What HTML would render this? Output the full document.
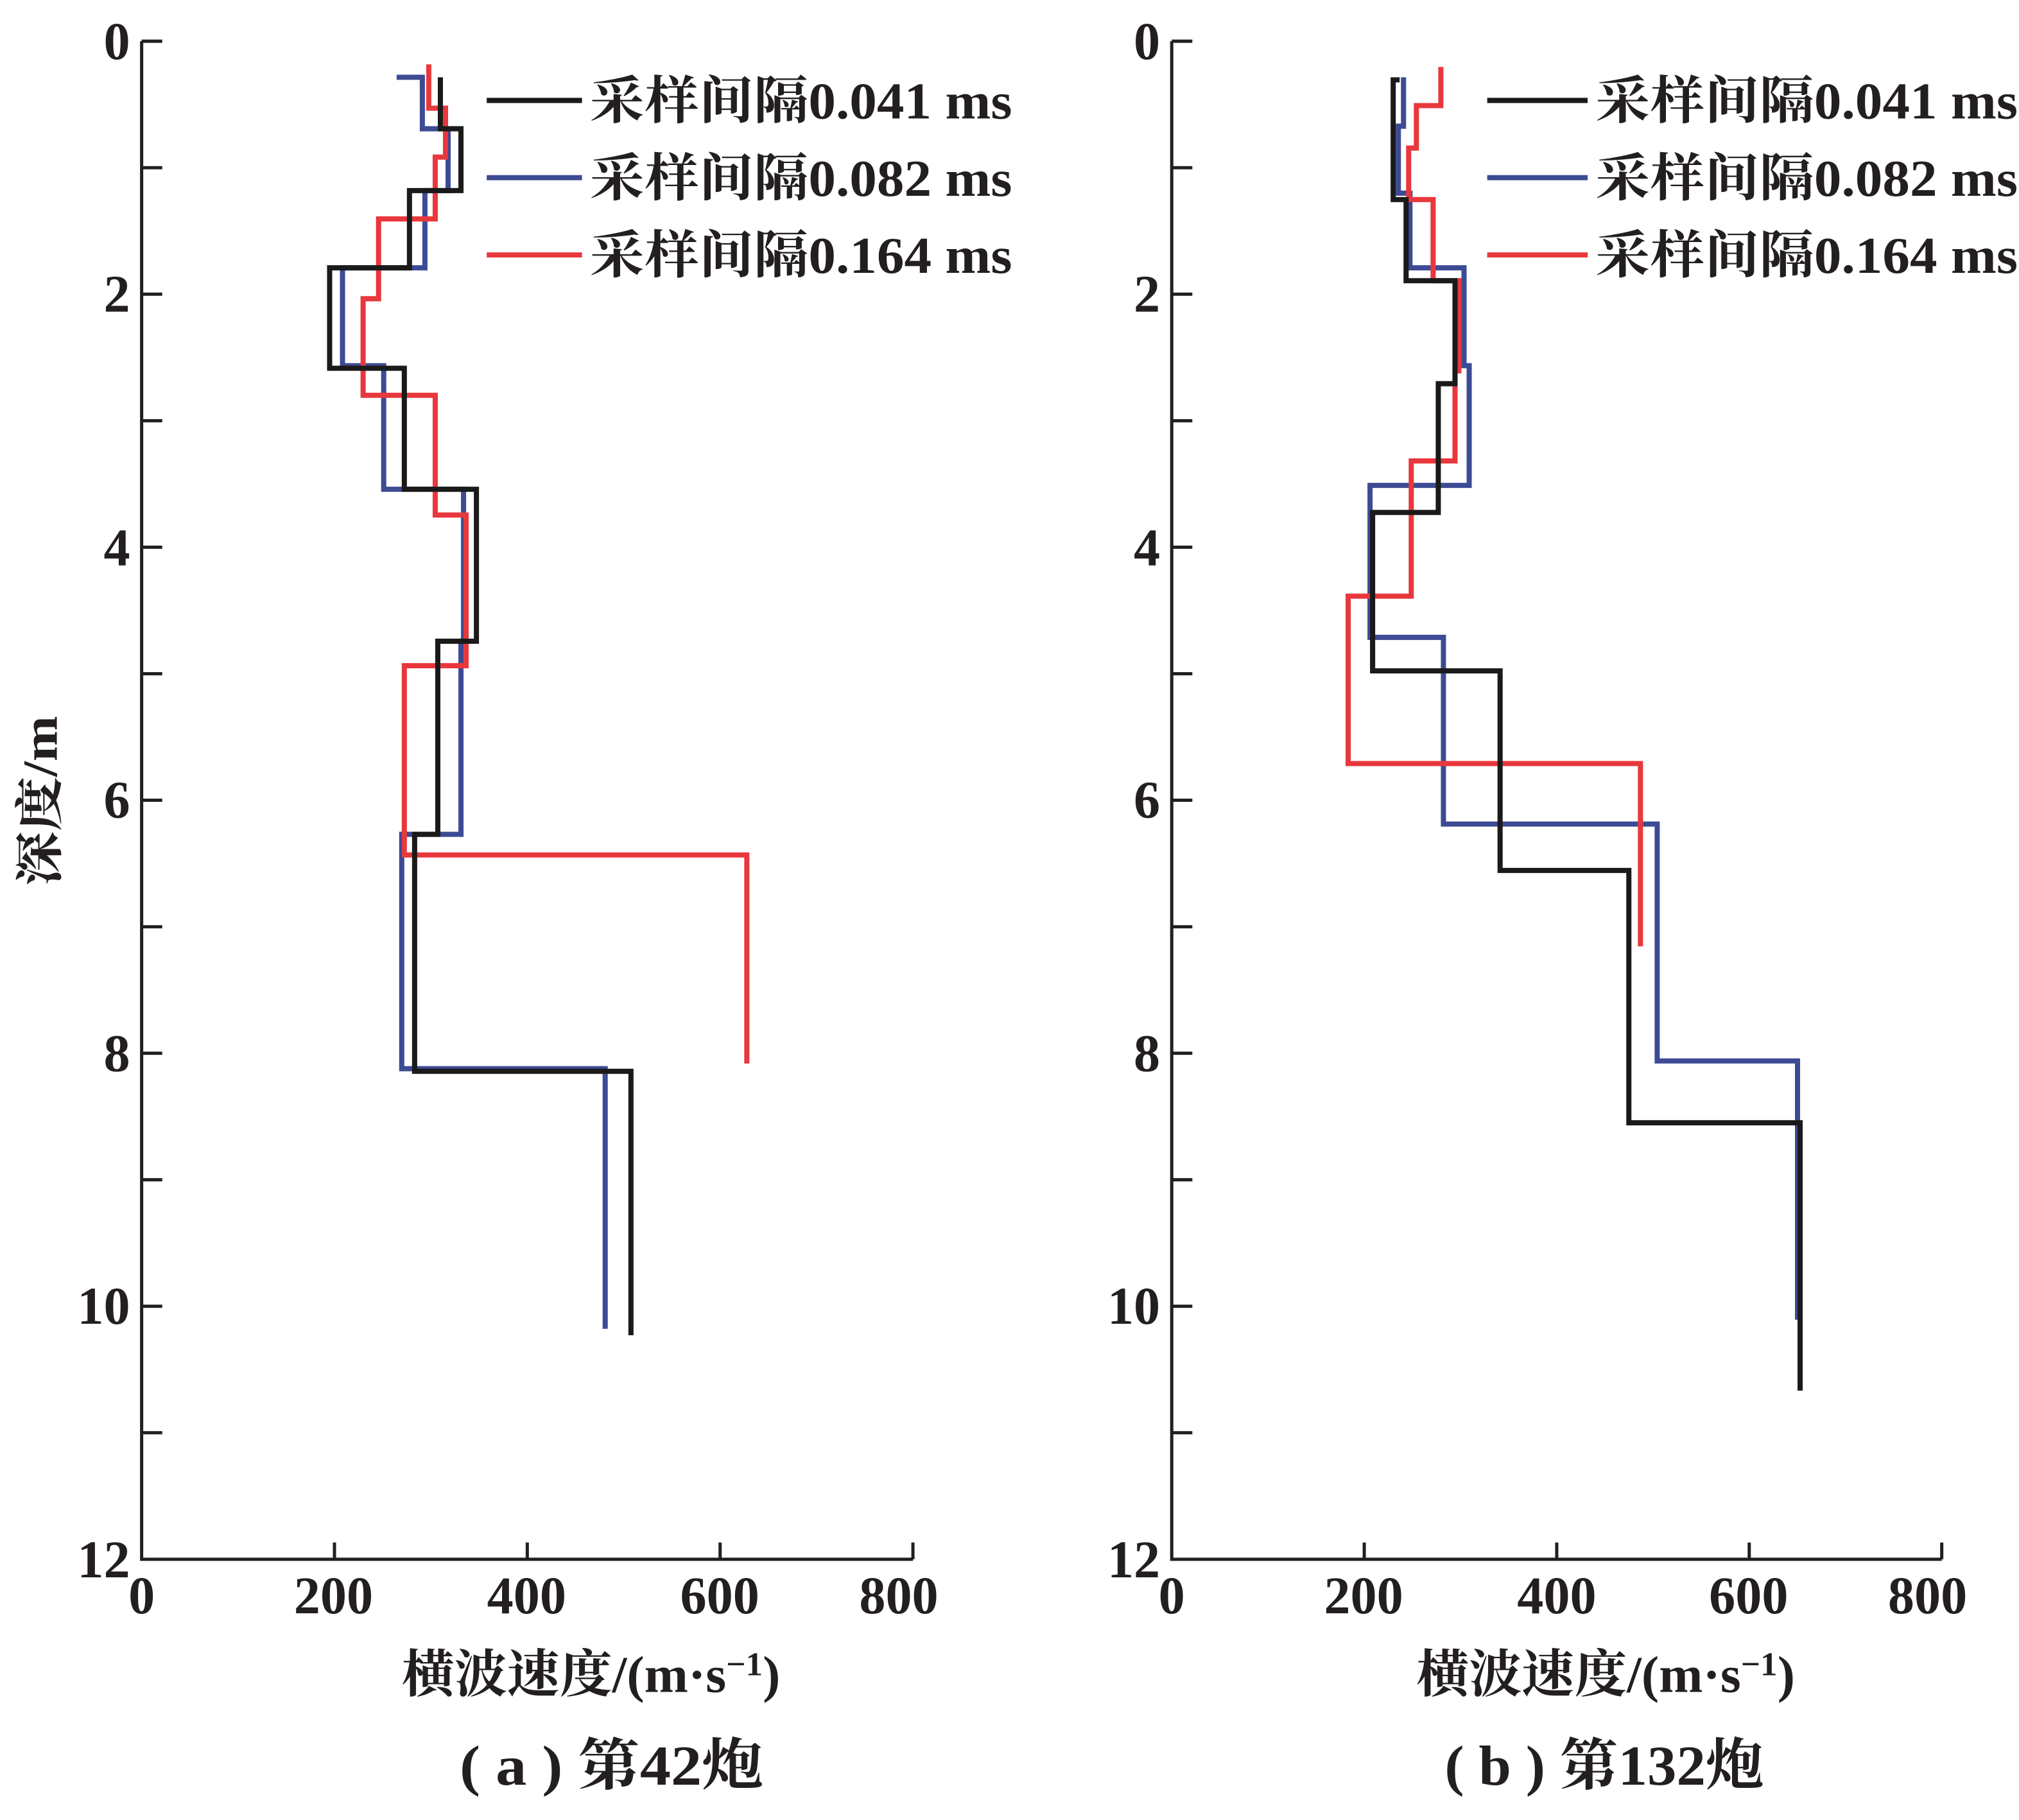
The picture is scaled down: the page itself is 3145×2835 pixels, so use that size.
<!DOCTYPE html>
<html><head><meta charset="utf-8"><style>
html,body{margin:0;padding:0;background:#fff;}
svg{display:block;}
text{font-family:"Liberation Serif","Noto Serif CJK SC",serif;fill:#231f20;}
</style></head><body>
<svg width="3145" height="2835" viewBox="0 0 1568 1413.5" preserveAspectRatio="none" xmlns="http://www.w3.org/2000/svg">
<g stroke="#231f20" stroke-width="2.5" fill="none">
<path d="M110,32 V1211 H709"/>
<path d="M910,32 V1211 H1508"/>
<path d="M110,32h16M110,130.25h16M110,228.5h16M110,326.75h16M110,425h16M110,523.25h16M110,621.5h16M110,719.75h16M110,818h16M110,916.25h16M110,1014.5h16M110,1112.75h16"/>
<path d="M910,32h16M910,130.25h16M910,228.5h16M910,326.75h16M910,425h16M910,523.25h16M910,621.5h16M910,719.75h16M910,818h16M910,916.25h16M910,1014.5h16M910,1112.75h16"/>
<path d="M259.75,1211v-13M409.5,1211v-13M559.25,1211v-13M709,1211v-13"/>
<path d="M1059.5,1211v-13M1209,1211v-13M1358.5,1211v-13M1508,1211v-13"/>
</g>
<g font-size="41" font-weight="bold" text-anchor="end">
<text x="101" y="46">0</text><text x="101" y="242">2</text><text x="101" y="439">4</text><text x="101" y="635">6</text><text x="101" y="832">8</text><text x="101" y="1028">10</text><text x="101" y="1225">12</text>
<text x="901" y="46">0</text><text x="901" y="242">2</text><text x="901" y="439">4</text><text x="901" y="635">6</text><text x="901" y="832">8</text><text x="901" y="1028">10</text><text x="901" y="1225">12</text>
</g>
<g font-size="41" font-weight="bold" text-anchor="middle">
<text x="110" y="1253">0</text><text x="259" y="1253">200</text><text x="409" y="1253">400</text><text x="559" y="1253">600</text><text x="698" y="1253">800</text>
<text x="910" y="1253">0</text><text x="1059" y="1253">200</text><text x="1209" y="1253">400</text><text x="1358" y="1253">600</text><text x="1497" y="1253">800</text>
</g>
<g font-size="40" font-weight="bold">
<text x="312" y="1314" textLength="294" lengthAdjust="spacingAndGlyphs">横波速度/(m·s<tspan dy="-13" font-size="26">−1</tspan><tspan dy="13">)</tspan></text>
<text x="1100" y="1314" textLength="294" lengthAdjust="spacingAndGlyphs">横波速度/(m·s<tspan dy="-13" font-size="26">−1</tspan><tspan dy="13">)</tspan></text>
<text x="357" y="1386" font-size="44" textLength="236" lengthAdjust="spacingAndGlyphs">( a ) 第42炮</text>
<text x="1122" y="1386" font-size="44" textLength="248" lengthAdjust="spacingAndGlyphs">( b ) 第132炮</text>
<text transform="translate(44,688) rotate(-90)" font-size="38" textLength="132" lengthAdjust="spacingAndGlyphs">深度/m</text>
</g>
<g fill="none" stroke-width="4">
<path stroke="#3d4b94" d="M308,60 H328 V100 H348 V148 H330 V208 H266 V284 H298 V380 H360 V500 H358 V648 H312 V830 H470 V1032"/>
<path stroke="#e8383d" d="M333,50 V84 H346 V122 H338 V170 H294 V232 H282 V307 H338 V400 H362 V517 H314 V664 H580 V826"/>
<path stroke="#1a1a1a" d="M342,60 V100 H358 V148 H318 V208 H256 V286 H314 V380 H370 V498 H340 V648 H322 V832 H490 V1037"/>
<path stroke="#3d4b94" d="M1090,60 V98 H1086 V150 H1095 V208 H1137 V284 H1141 V377 H1064 V495 H1121 V640 H1287 V824 H1396 V1025"/>
<path stroke="#e8383d" d="M1119,52 V82 H1100 V115 H1094 V155 H1113 V218 H1133 V288 H1130 V358 H1096 V463 H1047 V593 H1274 V735"/>
<path stroke="#1a1a1a" d="M1087,62 H1082 V155 H1092 V218 H1130 V298 H1117 V398 H1066 V521 H1165 V676 H1265 V872 H1398 V1080"/>
</g>
<g stroke-width="4">
<line x1="378" y1="78" x2="452" y2="78" stroke="#1a1a1a"/>
<line x1="378" y1="138" x2="452" y2="138" stroke="#3d4b94"/>
<line x1="378" y1="198" x2="452" y2="198" stroke="#e8383d"/>
<line x1="1155" y1="78" x2="1233" y2="78" stroke="#1a1a1a"/>
<line x1="1155" y1="138" x2="1233" y2="138" stroke="#3d4b94"/>
<line x1="1155" y1="198" x2="1233" y2="198" stroke="#e8383d"/>
</g>
<g font-size="40" font-weight="bold">
<text x="458" y="92" textLength="328" lengthAdjust="spacingAndGlyphs">采样间隔0.041 ms</text>
<text x="458" y="152" textLength="328" lengthAdjust="spacingAndGlyphs">采样间隔0.082 ms</text>
<text x="458" y="212" textLength="328" lengthAdjust="spacingAndGlyphs">采样间隔0.164 ms</text>
<text x="1239" y="92" textLength="328" lengthAdjust="spacingAndGlyphs">采样间隔0.041 ms</text>
<text x="1239" y="152" textLength="328" lengthAdjust="spacingAndGlyphs">采样间隔0.082 ms</text>
<text x="1239" y="212" textLength="328" lengthAdjust="spacingAndGlyphs">采样间隔0.164 ms</text>
</g>
</svg>
</body></html>
